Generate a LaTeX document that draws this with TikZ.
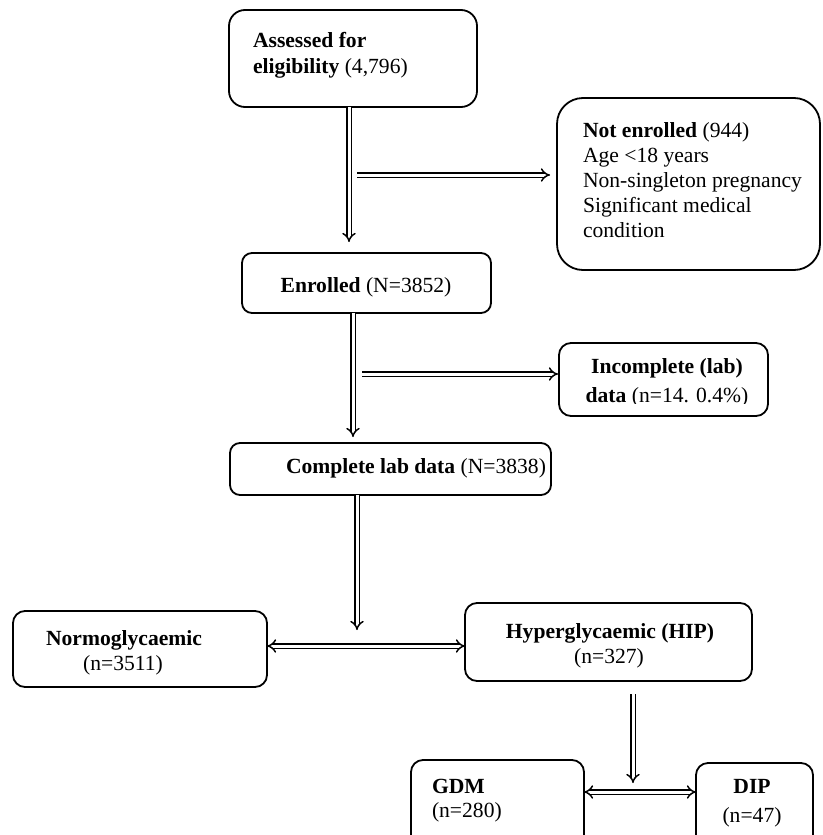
\documentclass[tikz,border=0pt]{standalone}
\usepackage{fontspec}
\setmainfont{Liberation Serif}
\usetikzlibrary{arrows.meta,calc}
\begin{document}
\begin{tikzpicture}[x=1pt,y=-1pt,
  box/.style={draw,line width=1.8pt,rounded corners=12pt,inner sep=0pt,outer sep=0pt},
  txt/.style={inner sep=0pt,outer sep=0pt,font=\fontsize{21.6}{25}\selectfont},
  dbl/.style={double,line width=1.5pt,double distance=3pt,-{Implies[scale=1.3]}},
  dbltwo/.style={double,line width=1.5pt,double distance=3pt,{Implies[scale=1.3]}-{Implies[scale=1.3]}}]
\path[use as bounding box] (0,0) rectangle (822,835);
\clip (0,0) rectangle (822,835);
% boxes
\node[box,rounded corners=16pt,minimum width=248pt,minimum height=97pt] (assess) at (353,58.5) {};
\node[box,rounded corners=26pt,minimum width=263pt,minimum height=172pt] (noten) at (688.5,184) {};
\node[box,rounded corners=10pt,minimum width=249pt,minimum height=60pt] (enrol) at (366.5,283) {};
\node[box,rounded corners=12pt,minimum width=209pt,minimum height=73pt] (incomp) at (663.5,379.5) {};
\node[box,rounded corners=10pt,minimum width=321pt,minimum height=52pt] (complete) at (390.5,469) {};
\node[box,rounded corners=12pt,minimum width=254pt,minimum height=76pt] (normo) at (140,649) {};
\node[box,rounded corners=12pt,minimum width=287pt,minimum height=78pt] (hyper) at (608.5,642) {};
\node[box,rounded corners=12pt,minimum width=173pt,minimum height=100pt] (gdm) at (497.5,810) {};
\node[box,rounded corners=12pt,minimum width=117pt,minimum height=100pt] (dip) at (754.5,813) {};
% texts
\node[txt,anchor=base west] (t1a) at (253,47) {\textbf{Assessed for}};
\node[txt,anchor=base west] (t1b) at (253,73) {\textbf{eligibility} (4,796)};
\node[txt,anchor=base west] (t2a) at (583,137) {\textbf{Not enrolled} (944)};
\node[txt,anchor=base west] (t2b) at (583,162) {Age <18 years};
\node[txt,anchor=base west] (t2c) at (583,187) {Non-singleton pregnancy};
\node[txt,anchor=base west] (t2d) at (583,212) {Significant medical};
\node[txt,anchor=base west] (t2e) at (583,237) {condition};
\node[txt,anchor=base] (t3) at (366,292) {\textbf{Enrolled} (N=3852)};
\node[txt,anchor=base] (t4a) at (667,373) {\textbf{Incomplete (lab)}};
\begin{scope}
\clip (540,370) rectangle (790,403);
\node[txt,anchor=base] (t4b) at (667,402) {\textbf{data} (n=14. 0.4\%)};
\end{scope}
\node[txt,anchor=base] (t5) at (416,473) {\textbf{Complete lab data} (N=3838)};
\node[txt,anchor=base] (t6a) at (124,645) {\textbf{Normoglycaemic}};
\node[txt,anchor=base] (t6b) at (123,670) {(n=3511)};
\node[txt,anchor=base] (t7a) at (610,638) {\textbf{Hyperglycaemic (HIP)}};
\node[txt,anchor=base] (t7b) at (609,663) {(n=327)};
\node[txt,anchor=base west] (t8a) at (432,793) {\textbf{GDM}};
\node[txt,anchor=base west] (t8b) at (432,817) {(n=280)};
\node[txt,anchor=base] (t9a) at (752,793) {\textbf{DIP}};
\begin{scope}
\clip (690,800) rectangle (820,826);
\node[txt,anchor=base] (t9b) at (752,822) {(n=47)};
\end{scope}
% connector coordinates
\coordinate (x1) at (349,175);
\coordinate (b1) at (357,175);
\coordinate (x2) at (353,374);
\coordinate (b2) at (362,374);
\coordinate (x3) at (357,560);
\coordinate (m1) at (0,646);
\coordinate (x4) at (633,740);
\coordinate (m2) at (0,792);
% connectors
\draw[dbl,shorten >=11pt] (assess.south -| x1) -- (enrol.north -| x1);
\draw[dbl,shorten >=7pt] (b1) -- (noten.west |- b1);
\draw[dbl,shorten >=6pt] (enrol.south -| x2) -- (complete.north -| x2);
\draw[dbl,shorten >=1pt] (b2) -- (incomp.west |- b2);
\draw[dbl,shorten >=-2pt] (complete.south -| x3) -- (x3 |- 0,628);
\draw[dbltwo] (normo.east |- m1) -- (hyper.west |- m1);
\draw[dbl,shorten <=13pt] (hyper.south -| x4) -- (x4 |- 0,783);
\draw[dbltwo] (gdm.east |- m2) -- (dip.west |- m2);
\end{tikzpicture}
\end{document}
